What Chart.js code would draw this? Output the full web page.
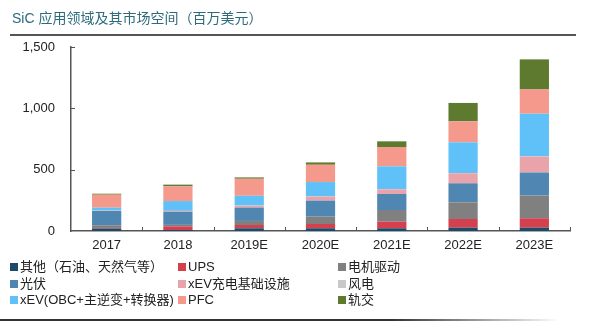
<!DOCTYPE html>
<html>
<head>
<meta charset="utf-8">
<script src="https://cdn.jsdelivr.net/npm/chart.js@4"></script>
<style>
  body { margin: 0; background: #fff; font-family: "Liberation Sans", "Noto Sans CJK SC", sans-serif; }
  #wrap { position: relative; width: 600px; height: 322px; overflow: hidden; }
  #chart { position: absolute; left: 0; top: 0; }
  #title { position: absolute; left: 12px; top: 7px; font-size: 14px; color: #2c6a7c; }
  #topline { position: absolute; left: 10px; top: 34px; width: 566px; height: 2px; background: #555; }
  #botline { position: absolute; left: 0; top: 319px; width: 560px; height: 2px;
             background: linear-gradient(to right, #333 70%, rgba(51,51,51,0)); }
  #legend { position: absolute; left: 0; top: 259px; width: 600px; }
  .item { position: absolute; font-size: 13px; color: #222; white-space: nowrap; line-height: 16px; }
  .item i { display: inline-block; width: 8px; height: 8px; margin-right: 2px; vertical-align: 0px; }
</style>
</head>
<body>
<div id="wrap">
  <canvas id="chart" width="600" height="322"></canvas>
  <div id="title">SiC 应用领域及其市场空间（百万美元）</div>
  <div id="topline"></div>
  <div id="legend"></div>
  <div id="botline"></div>
</div>
<script>
// categories
const years = ['2017', '2018', '2019E', '2020E', '2021E', '2022E', '2023E'];

// series, bottom to top of each bar (百万美元)
const other   = [20, 8, 22, 22, 22, 27, 27];        // 其他（石油、天然气等）
const ups     = [5, 30, 27, 35, 54, 71, 77];         // UPS
const motor   = [22, 12, 33, 60, 95, 136, 185];      // 电机驱动
const pv      = [117, 105, 109, 131, 131, 155, 188]; // 光伏
const charger = [3, 8, 16, 33, 38, 82, 130];         // xEV充电基础设施
const wind    = [1, 1, 1, 1, 2, 2, 3];               // 风电
const xev     = [22, 80, 79, 117, 185, 250, 346];    // xEV(OBC+主逆变+转换器)
const pfc     = [106, 120, 139, 141, 158, 171, 198]; // PFC
const rail    = [8, 14, 11, 19, 46, 150, 245];       // 轨交

const seriesNames = ['其他（石油、天然气等）', 'UPS', '电机驱动', '光伏', 'xEV充电基础设施', '风电',
                     'xEV(OBC+主逆变+转换器)', 'PFC', '轨交'];
const seriesData = [other, ups, motor, pv, charger, wind, xev, pfc, rail];
const colors = ['#1c4a68', '#d5404f', '#808080', '#4f87b2', '#e9a3aa', '#c9c9c9',
                '#5fc1f7', '#f4998b', '#5d7a2f'];

const yTicks = [0, 500, 1000, 1500];

// legend in 3 columns, same order as the reference
const legendCols = [10, 178, 338];
const legendEl = document.getElementById('legend');
seriesNames.forEach((name, i) => {
  const d = document.createElement('div');
  d.className = 'item';
  d.style.left = legendCols[i % 3] + 'px';
  d.style.top = (Math.floor(i / 3) * 16.5) + 'px';
  d.innerHTML = '<i style="background:' + colors[i] + '"></i>' + name;
  legendEl.appendChild(d);
});

// little inside tick marks on both axes
const innerTicks = {
  id: 'innerTicks',
  afterDraw(chart) {
    const ctx = chart.ctx, x = chart.scales.x, y = chart.scales.y;
    ctx.save();
    ctx.strokeStyle = '#555';
    ctx.lineWidth = 1;
    yTicks.slice(1).forEach(v => {
      const py = Math.round(y.getPixelForValue(v)) + 0.5;
      ctx.beginPath(); ctx.moveTo(x.left, py); ctx.lineTo(x.left + 4, py); ctx.stroke();
    });
    // category boundaries on the x axis
    for (let i = 1; i <= years.length; i++) {
      const bx = Math.round(x.left + i * x.width / years.length) + 0.5;
      ctx.beginPath(); ctx.moveTo(bx, y.bottom); ctx.lineTo(bx, y.bottom - 4); ctx.stroke();
    }
    ctx.restore();
  }
};

new Chart(document.getElementById('chart'), {
  type: 'bar',
  data: {
    labels: years,
    datasets: seriesData.map((d, i) => ({
      label: seriesNames[i],
      data: d,
      backgroundColor: colors[i],
      borderWidth: 0,
      barPercentage: 0.41,
      categoryPercentage: 1
    }))
  },
  options: {
    responsive: false,
    animation: false,
    layout: { padding: { top: 47, right: 30, left: 0, bottom: 0 } },
    plugins: { legend: { display: false }, tooltip: { enabled: false } },
    scales: {
      x: {
        stacked: true,
        grid: { display: false, drawTicks: false },
        border: { color: '#555', width: 1.5 },
        ticks: { color: '#222', padding: 7, font: { size: 13, family: 'Liberation Sans' } },
        afterFit: s => { s.height = 91; }
      },
      y: {
        stacked: true,
        min: 0, max: 1500,
        afterBuildTicks: s => { s.ticks = yTicks.map(v => ({ value: v })); },
        grid: { display: false, drawTicks: false },
        border: { color: '#555', width: 1.5 },
        ticks: {
          color: '#222', padding: 16,
          font: { size: 13, family: 'Liberation Sans' },
          callback: v => v.toLocaleString('en-US')
        },
        afterFit: s => { s.width = 71; }
      }
    }
  },
  plugins: [innerTicks]
});
</script>
</body>
</html>
